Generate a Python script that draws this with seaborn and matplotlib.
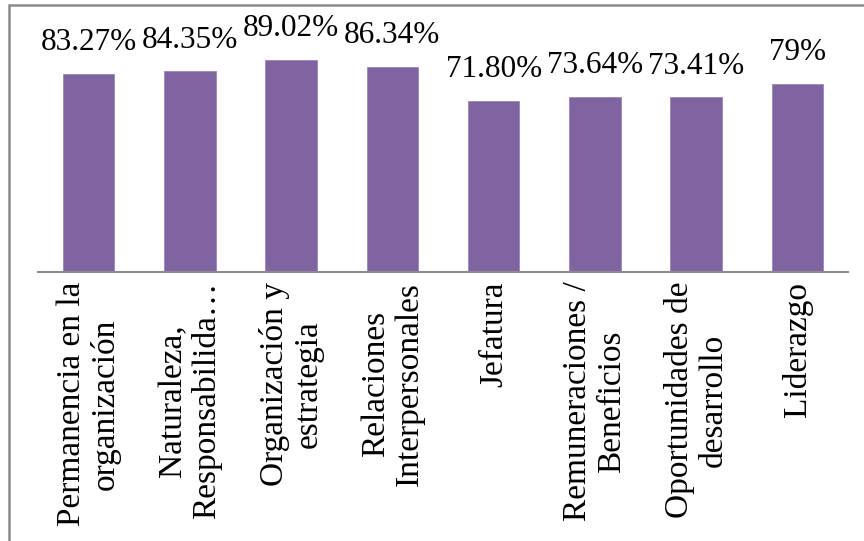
import matplotlib
matplotlib.use("Agg")
import matplotlib.pyplot as plt
import seaborn as sns
import pandas as pd
from matplotlib.patches import Rectangle

categories = [
    "Permanencia en la\norganización",
    "Naturaleza,\nResponsabilida…",
    "Organización y\nestrategia",
    "Relaciones\nInterpersonales",
    "Jefatura",
    "Remuneraciones /\nBeneficios",
    "Oportunidades de\ndesarrollo",
    "Liderazgo",
]
values = [83.27, 84.35, 89.02, 86.34, 71.80, 73.64, 73.41, 79.0]
value_labels = ["83.27%", "84.35%", "89.02%", "86.34%", "71.80%", "73.64%", "73.41%", "79%"]

sns.set_theme(style="white")
plt.rcParams["font.family"] = ["Liberation Serif", "DejaVu Serif"]

W, H = 864, 541
fig = plt.figure(figsize=(W / 100, H / 100), dpi=100)
ax = fig.add_axes([38 / W, 1 - 272 / H, (848 - 38) / W, (272 - 34) / H])

df = pd.DataFrame({"cat": categories, "val": values})
sns.barplot(data=df, x="cat", y="val", color="#8064A2", saturation=1,
            width=0.51, ax=ax, edgecolor="#9A86B8", linewidth=0.6)

ax.set_ylim(0, 100)
ax.set_xlim(-0.5, len(categories) - 0.5)
ax.set_xlabel("")
ax.set_ylabel("")
ax.set_yticks([])
for s in ["top", "right", "left"]:
    ax.spines[s].set_visible(False)
ax.spines["bottom"].set_color("#8C8C8C")
ax.spines["bottom"].set_linewidth(1.5)

ax.tick_params(axis="x", length=0, pad=7)
for lab in ax.get_xticklabels():
    lab.set_rotation(90)
    lab.set_fontsize(24)
    lab.set_ha("center")
    lab.set_va("top")
    lab.set_multialignment("center")
    lab.set_linespacing(1.12)
    lab.set_color("black")

for i, (v, t) in enumerate(zip(values, value_labels)):
    ax.annotate(t, (i, v), xytext=(0, 12), textcoords="offset points",
                ha="center", va="bottom", fontsize=22.5, color="black")

# outer frame (left and top edges visible)
fig.patches.append(Rectangle((8.5 / W, -0.01), 2, 1 - 4.5 / H + 0.01,
                             transform=fig.transFigure, fill=False,
                             edgecolor="#8A8A8A", linewidth=1.8))

fig.savefig("out.png", dpi=100)
